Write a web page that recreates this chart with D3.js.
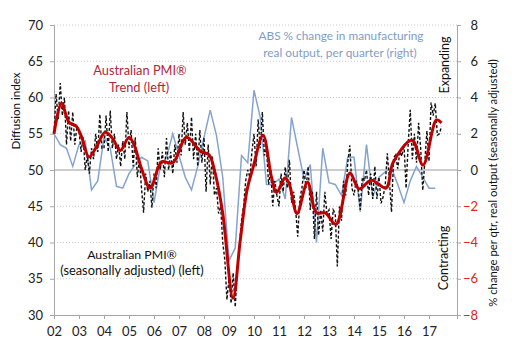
<!DOCTYPE html>
<html>
<head>
<meta charset="utf-8">
<script src="https://cdn.jsdelivr.net/npm/d3@7"></script>
<style>
  body { margin: 0; background: #fff; }
  text { font-family: Lato, "Noto Sans", sans-serif; }
</style>
</head>
<body>
<div id="chart"></div>
<script>
//  data
// x tick labels
var YEAR_LABELS = ["02","03","04","05","06","07","08","09","10","11","12","13","14","15","16","17"];
var FIRST_YEAR = 2002;

// Australian PMI, seasonally adjusted, monthly from Jan 2002 (left axis)
var PMI_SA = [
  55.0, 60.5, 57.0, 62.0, 57.5, 60.0, 53.5, 58.2, 54.0, 58.0, 53.5, 56.0,  // 2002
  55.5, 52.5, 54.5, 50.0, 52.0, 49.5, 53.0, 51.5, 55.0, 52.5, 57.7, 53.0,  // 2003
  53.0, 57.5, 52.5, 58.2, 53.0, 55.0, 51.5, 53.5, 50.5, 54.0, 51.5, 58.0,  // 2004
  53.0, 55.5, 50.5, 54.5, 49.0, 51.5, 47.5, 44.1, 49.5, 47.0, 48.5, 44.8,  // 2005
  49.5, 47.5, 53.0, 50.0, 52.5, 49.0, 54.4, 50.0, 52.5, 49.5, 53.5, 51.0,  // 2006
  55.0, 52.0, 58.0, 53.5, 56.5, 52.5, 57.3, 51.5, 55.0, 50.5, 55.5, 51.0,  // 2007
  54.5, 47.0, 53.5, 48.0, 52.0, 46.5, 47.5, 44.0, 45.0, 40.0, 37.6, 32.1,  // 2008
  35.0, 31.6, 35.8, 31.1, 36.5, 39.5, 43.0, 45.0, 48.5, 50.0, 49.0, 52.5,  // 2009
  55.0, 50.5, 57.0, 53.0, 58.0, 52.0, 53.0, 48.0, 50.0, 45.0, 48.5, 46.5,  // 2010
  45.0, 49.5, 47.0, 50.4, 47.5, 51.4, 45.5, 47.0, 44.5, 40.8, 46.0, 47.5,  // 2011
  50.0, 47.5, 50.5, 44.5, 47.0, 40.5, 47.0, 41.0, 44.5, 41.5, 47.0, 44.0,  // 2012
  44.5, 40.5, 44.5, 44.0, 36.7, 45.0, 43.0, 48.5, 46.5, 51.0, 53.4, 47.5,  // 2013
  46.5, 48.5, 47.5, 44.5, 49.0, 48.5, 50.0, 46.5, 49.5, 46.0, 50.5, 46.0,  // 2014
  49.0, 45.4, 46.3, 48.0, 52.3, 48.5, 44.2, 51.7, 52.1, 50.2, 52.5, 51.9,  // 2015
  53.5, 47.5, 53.5, 58.3, 51.5, 55.0, 51.0, 56.5, 53.0, 47.2, 51.2, 55.4,  // 2016
  51.2, 59.3, 57.5, 59.2, 54.8, 55.0, 56.0                                 // 2017
];

// Australian PMI trend (left axis): dates and values
var TREND_DATES = [2002.0, 2002.3, 2002.6, 2002.9, 2003.1, 2003.4, 2003.7, 2004.05, 2004.35, 2004.65,
  2005.0, 2005.2, 2005.5, 2005.85, 2006.3, 2006.75, 2007.3, 2007.85, 2008.2, 2008.45,
  2008.75, 2009.16, 2009.45, 2009.72, 2009.96, 2010.36, 2010.7, 2010.9, 2011.24, 2011.4,
  2011.72, 2012.14, 2012.5, 2012.85, 2013.28, 2013.84, 2014.2, 2014.7, 2015.28, 2015.56,
  2016.32, 2016.76, 2017.3, 2017.5];
var TREND_VALUES = [55.0, 59.2, 56.6, 56.0, 54.6, 51.8, 53.2, 55.2, 54.3, 52.7,
  54.5, 53.5, 50.2, 47.5, 51.1, 51.0, 54.5, 52.6, 52.1, 49.5,
  44.0, 32.3, 40.3, 47.2, 50.3, 54.8, 49.0, 46.9, 48.9, 48.2,
  44.0, 48.3, 44.1, 44.1, 42.5, 49.6, 47.4, 48.6, 47.5, 51.0,
  54.1, 50.7, 56.9, 56.5];

// ABS % change in manufacturing real output per quarter, from Q1 2002 (right axis)
var ABS_QTR = [
  2.0, 1.4, 1.2, 0.2,    // 2002
  1.4, 1.6, -1.1, -0.6,  // 2003
  1.8, 1.2, -0.9, -1.0,  // 2004
  -0.2, 0.3, 0.7, 0.5,   // 2005
  -1.8, 0.2, 0.7, 2.0,   // 2006
  0.8, -0.4, -1.1, 0.2,  // 2007
  1.8, 3.3, 1.9, -0.4,   // 2008
  -5.0, -4.3, 0.8, 0.4,  // 2009
  4.4, 2.9, -0.8, -0.8,  // 2010
  -0.5, -1.6, 2.9, 1.2,  // 2011
  -0.5, 0.3, -4.0, 1.2,  // 2012
  -0.7, -0.8, -1.4, 0.7, // 2013
  0.7, -2.3, 1.4, -1.5,  // 2014
  -0.4, -0.1, 0.1, -0.8, // 2015
  -1.8, -0.6, 0.2, -0.4, // 2016
  -1.0, -1.0             // 2017
];

var LEFT_TICKS = [30, 35, 40, 45, 50, 55, 60, 65, 70];
var RIGHT_TICKS = [-8, -6, -4, -2, 0, 2, 4, 6, 8];

//  draw
function draw_chart() {
  const w = 518
  const h = 351
  const margin = ({top: 25, right: 61, bottom: 36, left: 54})

  const svg = d3.select("#chart").append("svg").attr("width", w).attr("height", h)
  svg.append("rect").attr("width", w).attr("height", h).attr("fill", "#fff")

  const x = d3.scaleLinear().domain([FIRST_YEAR, 2018.12]).range([margin.left, w - margin.right])
  const yL = d3.scaleLinear().domain([30, 70]).range([h - margin.bottom, margin.top])
  const yR = d3.scaleLinear().domain([-8, 8]).range([h - margin.bottom, margin.top])

  // grid
  svg.append("g").selectAll("line").data(LEFT_TICKS.filter(d => d > 30)).enter()
    .append("line")
    .attr("x1", x.range()[0]).attr("x2", x.range()[1])
    .attr("y1", d => yL(d)).attr("y2", d => yL(d))
    .attr("stroke", d => d == 50 ? "#9a9a9a" : "#c8c8c8")
    .attr("stroke-width", d => d == 50 ? 1.2 : 1)
    .attr("stroke-dasharray", d => d == 50 ? null : "1,2")

  // axes
  const axisColor = "#a6a6a6"
  const gl = svg.append("g").attr("transform", `translate(${margin.left},0)`)
    .call(d3.axisLeft(yL).tickValues(LEFT_TICKS).tickSize(4).tickPadding(7))
  const gr = svg.append("g").attr("transform", `translate(${w - margin.right},0)`)
    .call(d3.axisRight(yR).tickValues(RIGHT_TICKS).tickSize(4).tickPadding(7))
  const gb = svg.append("g").attr("transform", `translate(0,${h - margin.bottom})`)
    .call(d3.axisBottom(x).tickValues(d3.range(FIRST_YEAR, FIRST_YEAR + YEAR_LABELS.length))
      .tickFormat((d, i) => YEAR_LABELS[i]).tickSize(4).tickPadding(8))
  ;[gl, gr, gb].forEach(g => {
    g.select(".domain").attr("stroke", axisColor)
    g.selectAll(".tick line").attr("stroke", axisColor)
    g.selectAll(".tick text").attr("fill", "#222").style("font-size", "13px").style("font-family", "Lato")
  })
  gr.selectAll(".tick text").attr("text-anchor", "end").attr("x", 21)
    .attr("fill", d => d < 0 ? "#e3211c" : "#222")

  // ABS quarterly (right)
  svg.append("path").datum(ABS_QTR)
    .attr("fill", "none").attr("stroke", "#85a3cf").attr("stroke-width", 1.5)
    .attr("d", d3.line().x((d, i) => x(FIRST_YEAR + i / 4)).y(d => yR(d)))

  // PMI seasonally adjusted (left)
  svg.append("path").datum(PMI_SA)
    .attr("fill", "none").attr("stroke", "#111").attr("stroke-width", 1.4)
    .attr("stroke-dasharray", "3,2")
    .attr("d", d3.line().x((d, i) => x(FIRST_YEAR + i / 12)).y(d => yL(d)))

  // PMI trend (left)
  svg.append("path").datum(TREND_DATES.map((d, i) => [d, TREND_VALUES[i]]))
    .attr("fill", "none").attr("stroke", "#c00000").attr("stroke-width", 3)
    .attr("stroke-linejoin", "round")
    .attr("d", d3.line().curve(d3.curveCatmullRom).x(d => x(d[0])).y(d => yL(d[1])))

  // labels
  const label = (txt, px, py, color, size, anchor, rot) => {
    const t = svg.append("text").attr("x", px).attr("y", py)
      .attr("fill", color).style("font-size", size + "px")
      .attr("text-anchor", anchor || "middle").text(txt)
    if (rot) t.attr("transform", `rotate(${rot},${px},${py})`)
    return t
  }
  label("Australian PMI®", 140, 75, "#b3263a", 12.8)
  label("Trend (left)", 139, 92, "#b3263a", 12.8)
  label("ABS % change in manufacturing", 341, 40, "#7f9cc8", 11.8)
  label("real output, per quarter (right)", 340, 57, "#7f9cc8", 11.8)
  label("Australian PMI®", 132, 259, "#111", 12.3)
  label("(seasonally adjusted) (left)", 132, 275, "#111", 12.8)
  label("Diffusion index", 19.5, 111, "#111", 11.6, "middle", -90)
  label("Expanding", 449, 65, "#111", 12.5, "middle", -90)
  label("Contracting", 448, 258, "#111", 12.5, "middle", -90)
  label("% change per qtr, real output (seasonally adjusted)", 497, 183, "#111", 11.3, "middle", -90)

  return svg.node()
}

draw_chart();
</script>
</body>
</html>
